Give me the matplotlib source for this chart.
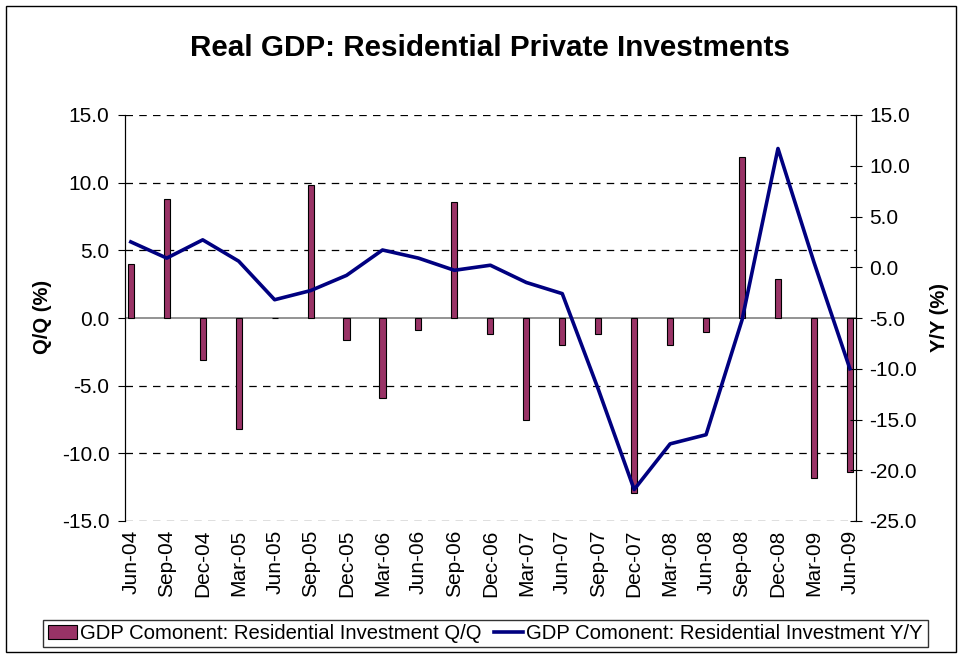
import numpy as np
import matplotlib.pyplot as plt
from matplotlib.patches import Rectangle

plt.rcParams['font.family'] = ['Liberation Sans', 'DejaVu Sans']

quarters = ["Jun-04", "Sep-04", "Dec-04", "Mar-05", "Jun-05", "Sep-05", "Dec-05",
            "Mar-06", "Jun-06", "Sep-06", "Dec-06", "Mar-07", "Jun-07", "Sep-07",
            "Dec-07", "Mar-08", "Jun-08", "Sep-08", "Dec-08", "Mar-09", "Jun-09"]
qq = [4.0, 8.8, -3.1, -8.2, 0.0, 9.8, -1.6, -5.9, -0.9, 8.6, -1.2, -7.5, -2.0,
      -1.2, -12.9, -2.0, -1.0, 11.9, 2.9, -11.8, -11.4]
yy = [2.5, 0.9, 2.7, 0.6, -3.2, -2.3, -0.8, 1.7, 0.9, -0.3, 0.2, -1.5, -2.6,
      -12.0, -21.9, -17.4, -16.5, -5.2, 11.7, 0.5, -10.0]

bar_color = "#993366"
line_color = "#000080"
W, H = 962, 656

fig = plt.figure(figsize=(W / 100, H / 100), dpi=100)
# outer chart border
fig.patches.append(Rectangle((6 / W, 1 - 652 / H), 950 / W, 646 / H,
                             transform=fig.transFigure, fill=False,
                             edgecolor="black", linewidth=1))

ax = fig.add_axes([124.7 / W, 1 - 521 / H, (856 - 124.7) / W, 406 / H])
x = np.arange(len(quarters))

ax.set_ylim(-15, 15)
ax.set_xlim(-0.17, len(quarters) - 1 + 0.17)
yt = np.arange(-15, 16, 5)
ax.set_yticks(yt)
ax.set_yticklabels([f"{v:.1f}" for v in yt], fontsize=15)
for v in yt:
    if v != 0:
        ax.axhline(v, color="black", linestyle=(0, (6, 5)), linewidth=0.9, zorder=0)
ax.axhline(0, color="#808080", linewidth=1.2, zorder=1)

bars = ax.bar(x, qq, width=0.17, color=bar_color, edgecolor="black",
              linewidth=0.8, zorder=2)

ax.set_xticks(x)
ax.set_xticklabels(quarters, rotation=90, fontsize=15)
ax.tick_params(axis="x", length=0, pad=6.5)
ax.tick_params(axis="y", direction="out", length=5, width=0.8, pad=6)
ax.spines["top"].set_visible(False)
ax.spines["bottom"].set_visible(False)

ax2 = ax.twinx()
ax2.set_ylim(-25, 15)
yt2 = np.arange(-25, 16, 5)
ax2.set_yticks(yt2)
ax2.set_yticklabels([f"{v:.1f}" for v in yt2], fontsize=15)
ax2.tick_params(axis="y", direction="inout", length=9, width=0.8, pad=5)
ax2.spines["top"].set_visible(False)
ax2.spines["bottom"].set_visible(False)
line, = ax2.plot(x, yy, color=line_color, linewidth=2.6, zorder=3)

fig.text(43 / W, 1 - 317 / H, "Q/Q (%)", rotation=90, ha="center", va="center",
         fontsize=14.5, fontweight="bold")
fig.text(940 / W, 1 - 318 / H, "Y/Y (%)", rotation=90, ha="center", va="center",
         fontsize=14.5, fontweight="bold")

fig.text(490 / W, 1 - 48 / H, "Real GDP: Residential Private Investments",
         ha="center", va="center", fontsize=21.3, fontweight="bold")

leg = fig.legend([bars, line],
                 ["GDP Comonent: Residential Investment Q/Q",
                  "GDP Comonent: Residential Investment Y/Y"],
                 loc="center", bbox_to_anchor=(485.5 / W, 1 - 633.5 / H),
                 ncol=2, fontsize=14.6, frameon=True, fancybox=False,
                 edgecolor="black", handlelength=1.45, handletextpad=0.15,
                 columnspacing=0.6, borderpad=0.22, borderaxespad=0)
leg.get_frame().set_linewidth(1.0)

fig.savefig("out.png", dpi=100)
